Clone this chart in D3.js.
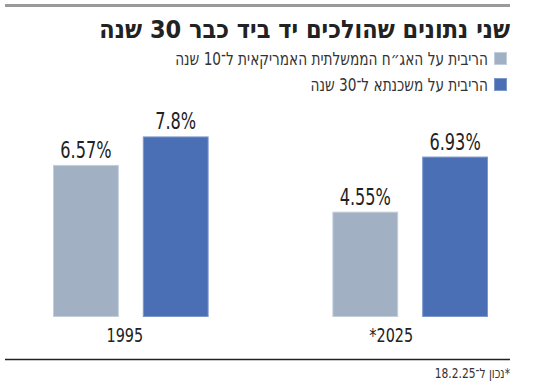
<!DOCTYPE html>
<html lang="he" dir="rtl">
<head>
<meta charset="utf-8">
<script src="https://cdn.jsdelivr.net/npm/d3@7"></script>
<style>
    body { margin: 0; background: #fff; }
    svg { display: block; font-family: "DejaVu Sans", sans-serif; font-stretch: condensed; }
</style>
</head>
<body>
<div id="chart"></div>
<script>
// data
const years = ["1995", "2025"]
const yearLabels = ["1995", "*2025"]
const seriesNames = ["הריבית על האג\u05F4ח הממשלתית האמריקאית ל־10 שנה", "הריבית על משכנתא ל־30 שנה"]
const bondRates = [6.57, 4.55]
const mortgageRates = [7.8, 6.93]
const valueLabels = [["6.57%", "7.8%"], ["4.55%", "6.93%"]]
const title = "שני נתונים שהולכים יד ביד כבר 30 שנה"
const footnote = "*נכון ל־18.2.25"

const colors = ["#a1b1c3", "#4a6fb4"]
const strokes = ["#c3cedb", "#7d98cb"]
// the year labels sit a little left of the group centre
const labelShift = [-6, -19]

const dimensions = {
    width: 550,
    height: 386,
    margin: { left: 53, right: 62, top: 132, bottom: 69 }
}
dimensions.boundedWidth = dimensions.width - dimensions.margin.left - dimensions.margin.right
dimensions.boundedHeight = dimensions.height - dimensions.margin.top - dimensions.margin.bottom

const svg = d3.select("#chart")
    .append("svg")
    .attr("width", dimensions.width)
    .attr("height", dimensions.height)

// text in a narrow face: squeeze horizontally around its anchor point
function narrowText(parent, x, y, sx) {
    return parent.append("g")
        .attr("transform", `translate(${x},${y}) scale(${sx},1)`)
        .append("text")
}

// top rule
svg.append("line")
    .attr("x1", 5).attr("x2", 510)
    .attr("y1", 5.5).attr("y2", 5.5)
    .attr("stroke", "#9a9a9a")
    .attr("stroke-width", 3)

narrowText(svg, 510, 38, 1)
    .attr("direction", "rtl")
    .attr("text-anchor", "start")
    .attr("font-size", 25)
    .attr("font-weight", "bold")
    .attr("fill", "#222")
    .text(title)

// legend
const legend = svg.append("g")
seriesNames.forEach((name, i) => {
    const y = 52 + i * 26
    legend.append("rect")
        .attr("x", 494.5).attr("y", y + 0.5)
        .attr("width", 12).attr("height", 12)
        .attr("fill", colors[i])
        .attr("stroke", strokes[i])
    narrowText(legend, 488, y + 13, 0.845)
        .attr("direction", "rtl")
        .attr("text-anchor", "start")
        .attr("font-size", 18)
        .attr("fill", "#333")
        .text(name)
})

const bounds = svg.append("g")
    .attr("transform", `translate(${dimensions.margin.left},${dimensions.margin.top})`)

const xScale = d3.scaleBand()
    .domain(years)
    .range([0, dimensions.boundedWidth])
    .paddingInner(0.443)
    .paddingOuter(0)

const innerScale = d3.scaleBand()
    .domain([0, 1])
    .range([0, xScale.bandwidth()])
    .paddingInner(0.267)

const yScale = d3.scaleLinear()
    .domain([0, 8])
    .range([dimensions.boundedHeight, dimensions.boundedHeight - 8 * 23.15])

const rows = years.map((y, i) => ({ year: y, label: yearLabels[i], values: [bondRates[i], mortgageRates[i]], texts: valueLabels[i] }))

const groups = bounds.selectAll(".group")
    .data(rows)
    .join("g")
    .attr("class", "group")
    .attr("transform", d => `translate(${xScale(d.year)},0)`)

groups.selectAll("rect")
    .data(d => d.values.map((v, j) => ({ v, j, t: d.texts[j] })))
    .join("rect")
    .attr("x", d => innerScale(d.j) + 0.5)
    .attr("y", d => yScale(d.v) + 0.5)
    .attr("width", innerScale.bandwidth() - 1)
    .attr("height", d => yScale(0) - yScale(d.v) - 1)
    .attr("fill", d => colors[d.j])
    .attr("stroke", d => strokes[d.j])

groups.each(function (d, i) {
    const g = d3.select(this)
    d.values.forEach((v, j) => {
        narrowText(g, innerScale(j) + innerScale.bandwidth() / 2, yScale(v) - 7, 0.78)
            .attr("text-anchor", "middle")
            .attr("direction", "ltr")
            .attr("font-size", 23)
            .attr("fill", "#222")
            .text(d.texts[j])
    })
    narrowText(g, xScale.bandwidth() / 2 + labelShift[i], dimensions.boundedHeight + 25, 0.8)
        .attr("text-anchor", "middle")
        .attr("direction", "ltr")
        .attr("font-size", 20)
        .attr("fill", "#222")
        .text(d.label)
})

// bottom rule
svg.append("line")
    .attr("x1", 5).attr("x2", 510)
    .attr("y1", 359.5).attr("y2", 359.5)
    .attr("stroke", "#222")
    .attr("stroke-width", 1.5)

narrowText(svg, 510, 378, 0.85)
    .attr("direction", "rtl")
    .attr("text-anchor", "start")
    .attr("font-size", 14)
    .attr("fill", "#333")
    .text(footnote)
</script>
</body>
</html>
